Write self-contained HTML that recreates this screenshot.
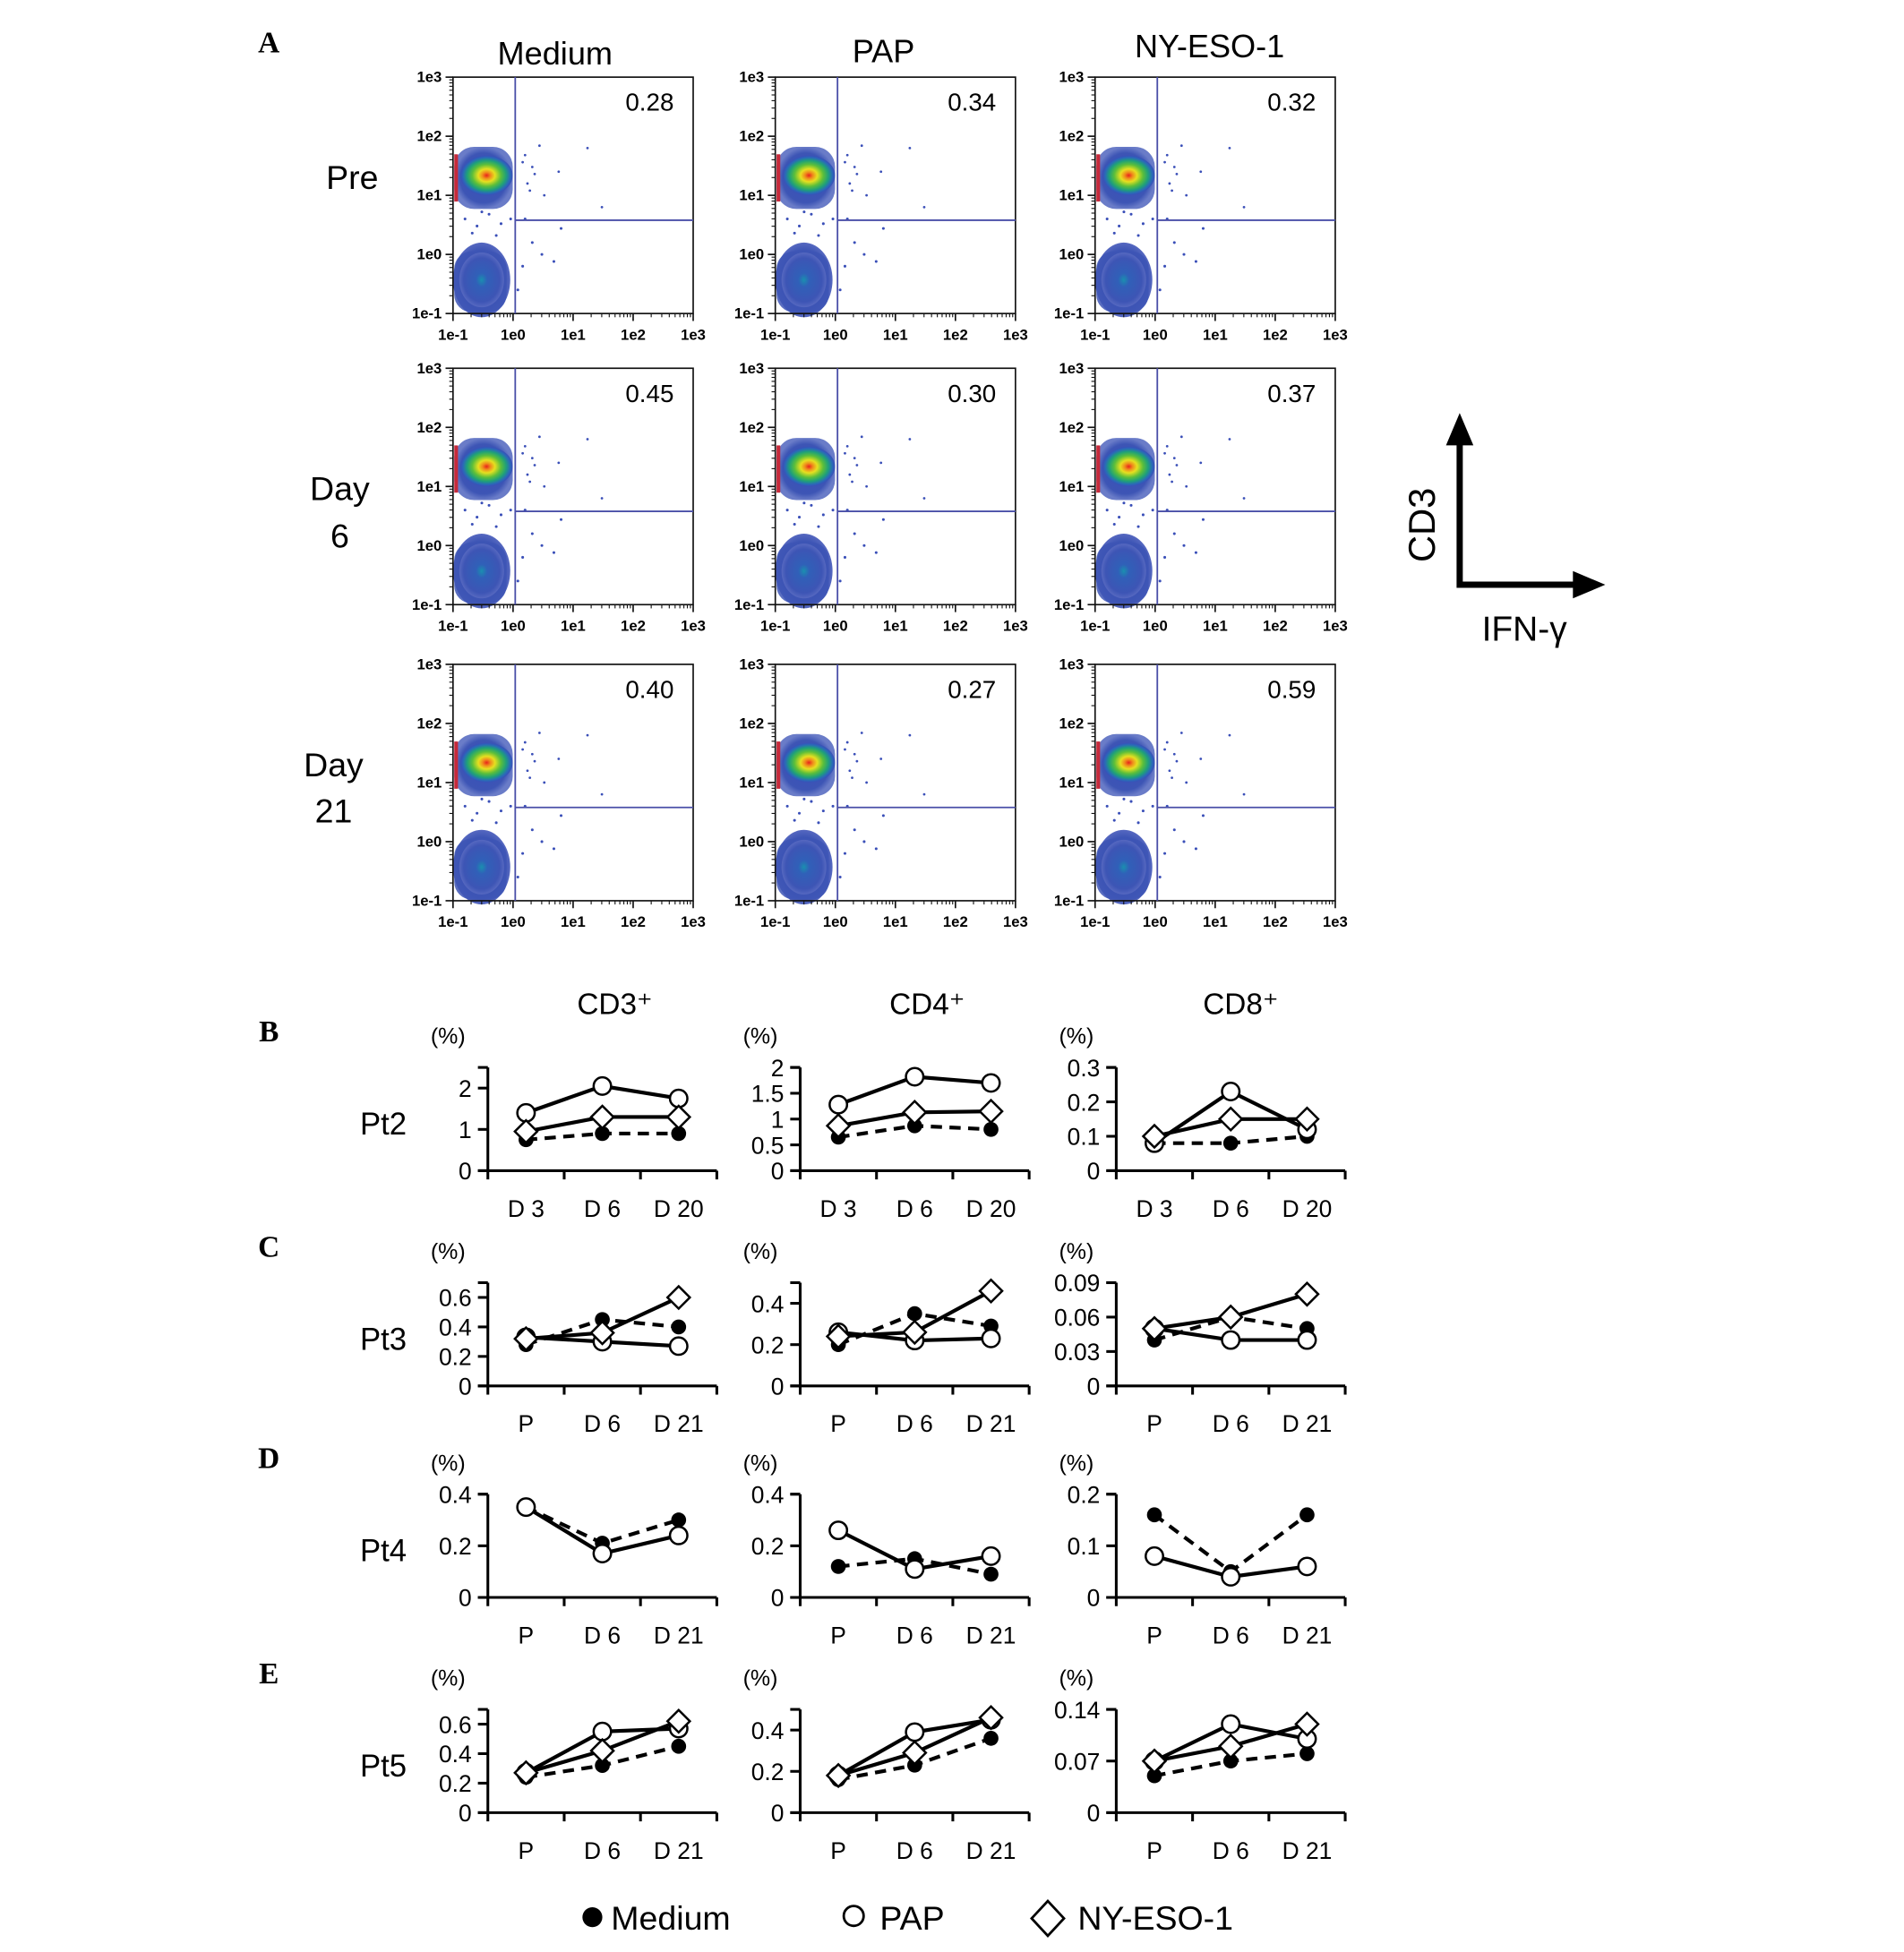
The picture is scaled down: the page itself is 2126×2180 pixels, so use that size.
<!DOCTYPE html>
<html><head><meta charset="utf-8"><style>
html,body{margin:0;padding:0;background:#fff;}
svg{display:block;font-family:"Liberation Sans",sans-serif;}
.cal{font-family:"Liberation Sans","DejaVu Sans",sans-serif;}
</style></head><body>
<svg id="fig" xmlns="http://www.w3.org/2000/svg" width="2126" height="2180" viewBox="0 0 1530 1569">
<defs>
<radialGradient id="hot" cx="0.5" cy="0.5" r="0.5">
<stop offset="0" stop-color="#e8231c"/><stop offset="0.15" stop-color="#f08a1c"/><stop offset="0.32" stop-color="#e6e020"/><stop offset="0.55" stop-color="#5cbf3a"/><stop offset="0.75" stop-color="#1ea07a"/><stop offset="0.9" stop-color="#2a6ab8"/><stop offset="1" stop-color="#3a4fb8"/>
</radialGradient>
<radialGradient id="cold" cx="0.5" cy="0.5" r="0.5">
<stop offset="0" stop-color="#1a8fb0"/><stop offset="0.25" stop-color="#3060b8"/><stop offset="0.8" stop-color="#3d55b5"/><stop offset="1" stop-color="#5668c0"/>
</radialGradient>
<radialGradient id="halo" cx="0.5" cy="0.5" r="0.5">
<stop offset="0" stop-color="#3a4fb8"/><stop offset="0.8" stop-color="#3d55b5"/><stop offset="1" stop-color="#6a7cc8"/>
</radialGradient>
</defs>
<g id="topGroup"></g>
<g id="bottomGroup"></g>
</svg>
<script>
// ===== Panel A data =====
var flowCols = ['Medium','PAP','NY-ESO-1'];
var flowRows = ['Pre','Day 6','Day 21'];
var flowValues = [['0.28','0.34','0.32'],['0.45','0.30','0.37'],['0.40','0.27','0.59']];
var decadeLabels = ['1e-1','1e0','1e1','1e2','1e3'];

// ===== Panels B-E data =====
var patients = ['Pt2','Pt3','Pt4','Pt5'];
var panelLetters = ['B','C','D','E'];
var subsets = ['CD3\u207A','CD4\u207A','CD8\u207A'];
var xCats = [['D 3','D 6','D 20'],['P','D 6','D 21'],['P','D 6','D 21'],['P','D 6','D 21']];
var yMax = [[2.5,2,0.3],[0.7,0.5,0.09],[0.4,0.4,0.2],[0.7,0.5,0.14]];
var yTicks = [
 [[0,1,2],[0,0.5,1,1.5,2],[0,0.1,0.2,0.3]],
 [[0,0.2,0.4,0.6],[0,0.2,0.4],[0,0.03,0.06,0.09]],
 [[0,0.2,0.4],[0,0.2,0.4],[0,0.1,0.2]],
 [[0,0.2,0.4,0.6],[0,0.2,0.4],[0,0.07,0.14]]];
var yTickLabels = [
 [['0','1','2'],['0','0.5','1','1.5','2'],['0','0.1','0.2','0.3']],
 [['0','0.2','0.4','0.6'],['0','0.2','0.4'],['0','0.03','0.06','0.09']],
 [['0','0.2','0.4'],['0','0.2','0.4'],['0','0.1','0.2']],
 [['0','0.2','0.4','0.6'],['0','0.2','0.4'],['0','0.07','0.14']]];
var mediumVals = [
 [[0.75,0.9,0.9],[0.65,0.87,0.8],[0.08,0.08,0.1]],
 [[0.28,0.45,0.4],[0.2,0.35,0.29],[0.04,0.06,0.05]],
 [[0.35,0.21,0.3],[0.12,0.15,0.09],[0.16,0.05,0.16]],
 [[0.24,0.32,0.45],[0.16,0.23,0.36],[0.05,0.07,0.08]]];
var papVals = [
 [[1.4,2.05,1.75],[1.28,1.82,1.7],[0.08,0.23,0.12]],
 [[0.33,0.3,0.27],[0.26,0.22,0.23],[0.05,0.04,0.04]],
 [[0.35,0.17,0.24],[0.26,0.11,0.16],[0.08,0.04,0.06]],
 [[0.27,0.55,0.57],[0.18,0.39,0.45],[0.07,0.12,0.1]]];
var nyVals = [
 [[0.95,1.3,1.3],[0.87,1.13,1.15],[0.1,0.15,0.15]],
 [[0.32,0.36,0.6],[0.24,0.26,0.46],[0.05,0.06,0.08]],
 null,
 [[0.27,0.42,0.62],[0.18,0.29,0.46],[0.07,0.09,0.12]]];

var NS='http://www.w3.org/2000/svg';
function mk(tag, attrs, parent, text){
  var e=document.createElementNS(NS,tag);
  for(var k in attrs) e.setAttribute(k,attrs[k]);
  if(text!==undefined) e.textContent=text;
  if(parent) parent.appendChild(e);
  return e;
}
var topG=document.getElementById('topGroup');
var bottomG=document.getElementById('bottomGroup');

// ---------- Panel A ----------
var lA=mk('text',{x:216,y:42,'font-family':'Liberation Serif, serif','font-weight':'bold','font-size':24,'text-anchor':'middle'},topG,'A');


var colLeft=[364,623,880], rowTop=[62,296,534], FW=193, FH=190;
var colTitleX=[446,710,972], colTitleY=[52,50,46];
flowCols.forEach(function(c,i){
  var t=mk('text',{x:colTitleX[i],y:colTitleY[i],'font-size':26,'text-anchor':'middle','class':'cal'},topG,c);
  
  
});
var rowLabelY=[[152],[402,440],[624,661]];
var rowLabelX=[283,273,268];
flowRows.forEach(function(r,i){
  var parts=r.split(' ');
  parts.forEach(function(p,j){
    var t=mk('text',{x:rowLabelX[i],y:rowLabelY[i][j],'font-size':27,'text-anchor':'middle','class':'cal'},topG,p);
    
    
  });
});
var dotsUpper=[[0.3,0.33],[0.36,0.29],[0.33,0.38],[0.44,0.4],[0.56,0.3],[0.31,0.45],[0.38,0.5],[0.62,0.55],[0.34,0.41],[0.29,0.36],[0.32,0.48]];
var dotsLower=[[0.3,0.6],[0.33,0.7],[0.29,0.8],[0.37,0.75],[0.42,0.78],[0.27,0.9],[0.45,0.64],[0.05,0.6],[0.1,0.63],[0.15,0.58],[0.2,0.62],[0.08,0.66],[0.18,0.67],[0.24,0.6],[0.12,0.57]];
for(var r=0;r<3;r++){
  for(var c=0;c<3;c++){
    var x0=colLeft[c], y0=rowTop[r];
    var g=mk('g',{},topG);
    
    
    mk('ellipse',{cx:x0+23,cy:y0+163,rx:23,ry:30,fill:'url(#cold)'},g);
    mk('rect',{x:x0+1,y:y0+140,width:42,height:49,rx:14,fill:'#3d55b5',opacity:0.85},g);
    mk('ellipse',{cx:x0+23,cy:y0+163,rx:18,ry:22,fill:'url(#cold)'},g);
    mk('rect',{x:x0+1,y:y0+56,width:47,height:50,rx:16,fill:'url(#halo)'},g);
    mk('ellipse',{cx:x0+27,cy:y0+79,rx:21,ry:16,fill:'url(#hot)'},g);
    mk('rect',{x:x0+1,y:y0+62,width:3,height:38,fill:'#c62a3a'},g);
    dotsUpper.forEach(function(d){mk('circle',{cx:x0+d[0]*FW,cy:y0+d[1]*FH,r:1,fill:'#3a4fb8'},g);});
    dotsLower.forEach(function(d){mk('circle',{cx:x0+d[0]*FW,cy:y0+d[1]*FH,r:1.1,fill:'#3a4fb8'},g);});
    mk('rect',{x:x0,y:y0,width:FW,height:FH,fill:'none',stroke:'#111','stroke-width':1.2},g);
    var ql=mk('line',{x1:x0+50,y1:y0,x2:x0+50,y2:y0+FH,stroke:'#4a4fa8','stroke-width':1.3},g);
    
    
    var qh=mk('line',{x1:x0+50,y1:y0+115,x2:x0+FW,y2:y0+115,stroke:'#4a4fa8','stroke-width':1.3},g);
    
    
    for(var k=0;k<5;k++){
      var yy=y0+FH-k*FH/4, xx=x0+k*FW/4;
      mk('line',{x1:x0-6,y1:yy,x2:x0,y2:yy,stroke:'#111','stroke-width':1.2},g);
      mk('line',{x1:xx,y1:y0+FH,x2:xx,y2:y0+FH+6,stroke:'#111','stroke-width':1.2},g);
      if(k<4){for(var m=2;m<10;m++){var f=Math.log10(m)*FH/4;
        mk('line',{x1:x0-3,y1:yy-f,x2:x0,y2:yy-f,stroke:'#111','stroke-width':0.8},g);
        var fx=Math.log10(m)*FW/4;
        mk('line',{x1:xx+fx,y1:y0+FH,x2:xx+fx,y2:y0+FH+3,stroke:'#111','stroke-width':0.8},g);}}
      var yl=mk('text',{x:x0-9,y:yy+4,'font-size':12,'text-anchor':'end','font-weight':'bold'},g,decadeLabels[k]);
      
      
      var xl=mk('text',{x:xx,y:y0+FH+21,'font-size':12,'text-anchor':'middle','font-weight':'bold'},g,decadeLabels[k]);
      
      
    }
    var v=mk('text',{x:x0+FW-35,y:y0+27,'font-size':20,'text-anchor':'middle','class':'cal'},g,flowValues[r][c]);
    
    
  }
}
var key=mk('g',{},topG);


mk('polyline',{points:'1173,350 1173,470 1272,470',fill:'none',stroke:'#000','stroke-width':5},key);
mk('polygon',{points:'1173,332 1162,358 1184,358',fill:'#000'},key);
mk('polygon',{points:'1290,470 1264,459 1264,481',fill:'#000'},key);
var cd3=mk('text',{x:0,y:0,'font-size':30,'text-anchor':'middle',transform:'translate(1153,422) rotate(-90)','class':'cal'},key,'CD3');


var ifn=mk('text',{x:1225,y:515,'font-size':28,'text-anchor':'middle','class':'cal'},key,'IFN-\u03B3');



// ---------- Panels B-E ----------
var plotX=[392,643,897], PW=184, PH=83;
var axisBottom=[941,1114,1284,1457];
var subsetX=[494,745,997];
subsets.forEach(function(s,i){
  var t=mk('text',{x:subsetX[i],y:815,'font-size':24,'text-anchor':'middle','class':'cal'},bottomG,s);
  
  
});
function drawSeries(g, vals, xs, ys, dashed, marker){
  var pts=vals.map(function(v,i){return xs(i)+','+ys(v);}).join(' ');
  var ln=mk('polyline',{points:pts,fill:'none',stroke:'#000','stroke-width':3,'stroke-dasharray':dashed?'9,6':'none'},g);
  
  
  return function(){
    vals.forEach(function(v,i){
      var cx=xs(i), cy=ys(v), e;
      if(marker==='medium') e=mk('circle',{cx:cx,cy:cy,r:6,fill:'#000'},g);
      else if(marker==='pap') e=mk('circle',{cx:cx,cy:cy,r:7,fill:'#fff',stroke:'#000','stroke-width':1.8},g);
      else e=mk('polygon',{points:cx+','+(cy-9)+' '+(cx+9)+','+cy+' '+cx+','+(cy+9)+' '+(cx-9)+','+cy,fill:'#fff',stroke:'#000','stroke-width':1.8},g);
      
      
    });
  };
}
patients.forEach(function(p,r){
  var yb=axisBottom[r];
  var L=mk('text',{x:216,y:yb-104,'font-family':'Liberation Serif, serif','font-weight':'bold','font-size':24,'text-anchor':'middle'},bottomG,panelLetters[r]);
  
  
  var pl=mk('text',{x:308,y:yb-29,'font-size':25,'text-anchor':'middle','class':'cal'},bottomG,p);
  
  
  for(var c=0;c<3;c++){
    var x0=plotX[c];
    var g=mk('g',{},bottomG);
    
    
    var ymax=yMax[r][c];
    var ys=(function(ymax){return function(v){return yb-v/ymax*PH;};})(ymax);
    var xs=(function(x0){return function(i){return x0+(i+0.5)*PW/3;};})(x0);
    var pc=mk('text',{x:x0-32,y:yb-102,'font-size':18,'text-anchor':'middle','class':'cal'},g,'(%)');
    
    
    mk('line',{x1:x0,y1:yb-PH,x2:x0,y2:yb,stroke:'#000','stroke-width':2.2},g);
    mk('line',{x1:x0-8,y1:yb-PH,x2:x0,y2:yb-PH,stroke:'#000','stroke-width':2.2},g);
    mk('line',{x1:x0-8,y1:yb,x2:x0+PW,y2:yb,stroke:'#000','stroke-width':2.2},g);
    for(var k=0;k<=3;k++) mk('line',{x1:x0+k*PW/3,y1:yb,x2:x0+k*PW/3,y2:yb+7,stroke:'#000','stroke-width':2.2},g);
    yTicks[r][c].forEach(function(t,k){
      var yy=ys(t);
      mk('line',{x1:x0-8,y1:yy,x2:x0,y2:yy,stroke:'#000','stroke-width':2.2},g);
      var tl=mk('text',{x:x0-13,y:yy+7,'font-size':19,'text-anchor':'end','class':'cal'},g,yTickLabels[r][c][k]);
      
      
    });
    xCats[r].forEach(function(cat,i){
      var xl=mk('text',{x:xs(i),y:yb+37,'font-size':19,'text-anchor':'middle','class':'cal'},g,cat);
      
      
    });
    var fns=[];
    fns.push(drawSeries(g,mediumVals[r][c],xs,ys,true,'medium'));
    fns.push(drawSeries(g,papVals[r][c],xs,ys,false,'pap'));
    if(nyVals[r]) fns.push(drawSeries(g,nyVals[r][c],xs,ys,false,'ny-eso-1'));
    fns.forEach(function(f){f();});
  }
});
var lg=mk('g',{},bottomG);


var e1=mk('circle',{cx:476,cy:1541,r:8,fill:'#000'},lg);


var t1=mk('text',{x:491,y:1551,'font-size':27,'class':'cal'},lg,'Medium');


var e2=mk('circle',{cx:686,cy:1540,r:8,fill:'#fff',stroke:'#000','stroke-width':2},lg);


var t2=mk('text',{x:707,y:1551,'font-size':27,'class':'cal'},lg,'PAP');


var e3=mk('polygon',{points:'842,1528 855,1542 842,1556 829,1542',fill:'#fff',stroke:'#000','stroke-width':2},lg);


var t3=mk('text',{x:866,y:1551,'font-size':27,'class':'cal'},lg,'NY-ESO-1');


</script>
</body></html>
